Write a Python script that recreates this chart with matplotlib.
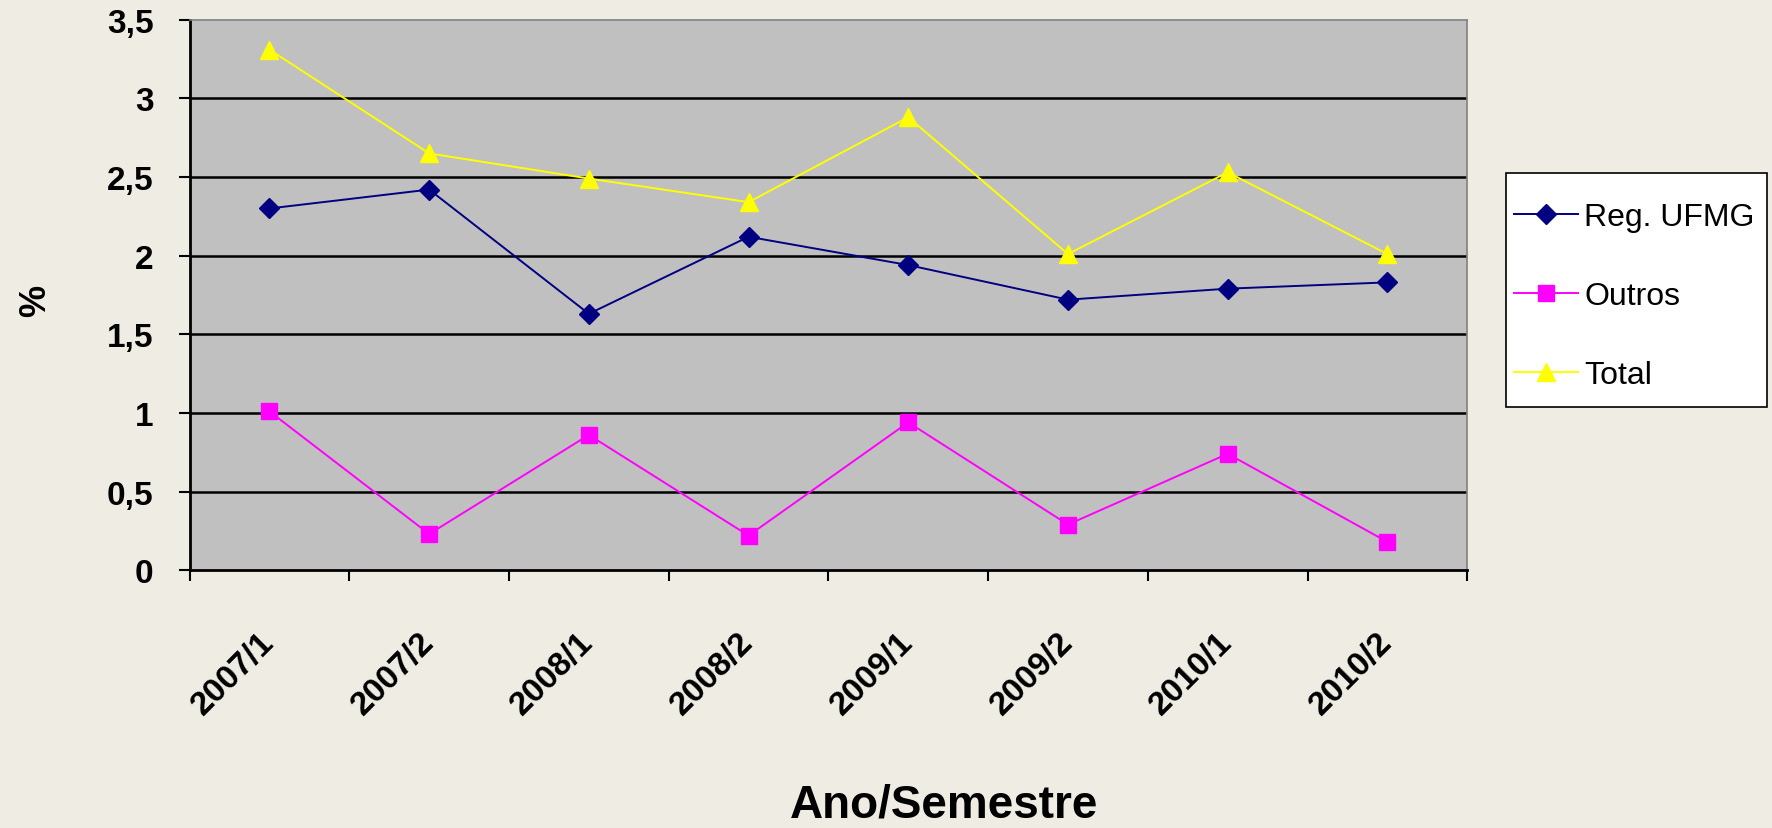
import matplotlib.pyplot as plt
from matplotlib.patches import Rectangle
from matplotlib.ticker import FixedLocator, NullFormatter

periodos = ['2007/1', '2007/2', '2008/1', '2008/2', '2009/1', '2009/2', '2010/1', '2010/2']
reg_ufmg = [2.30, 2.42, 1.63, 2.12, 1.94, 1.72, 1.79, 1.83]
outros = [1.01, 0.23, 0.86, 0.22, 0.94, 0.29, 0.74, 0.18]
total = [3.31, 2.65, 2.49, 2.34, 2.88, 2.01, 2.53, 2.01]
y_ticks = [0, 0.5, 1, 1.5, 2, 2.5, 3, 3.5]
y_labels = ['0', '0,5', '1', '1,5', '2', '2,5', '3', '3,5']

plt.rcParams['font.family'] = ['Liberation Sans', 'DejaVu Sans']

W, H = 1772, 829
fig = plt.figure(figsize=(W / 100, H / 100), dpi=100)
fig.patch.set_facecolor('#efede3')
ax = fig.add_axes([0.107, 0.311, 0.721, 0.664])
ax.set_facecolor('#c0c0c0')

x = list(range(len(periodos)))
ax.plot(x, reg_ufmg, color='#000080', lw=1.4, marker='D', ms=10.5, label='Reg. UFMG', zorder=3)
ax.plot(x, outros, color='#ff00ff', lw=1.4, marker='s', ms=12, label='Outros', zorder=3)
ax.plot(x, total, color='#ffff00', lw=1.4, marker='^', ms=13, label='Total', zorder=3)

ax.set_xlim(-0.5, len(periodos) - 0.5)
ax.set_ylim(0, 3.5)

# grid lines at every y tick
for yv in y_ticks[1:-1]:
    ax.axhline(yv, color='black', lw=1.8, zorder=1)

ax.set_yticks(y_ticks)
ax.set_yticklabels(y_labels, fontsize=24, fontweight='bold')
ax.tick_params(axis='y', length=8, width=1.5, direction='out', pad=18)

# ticks between categories, labels at category centres
ax.xaxis.set_major_locator(FixedLocator([i - 0.5 for i in range(len(periodos) + 1)]))
ax.xaxis.set_major_formatter(NullFormatter())
ax.xaxis.set_minor_locator(FixedLocator(x))
ax.set_xticklabels(periodos, minor=True, fontsize=24, fontweight='bold',
                   rotation=45, ha='right', va='center', rotation_mode='anchor')
ax.tick_params(axis='x', which='major', length=8, width=1.5, direction='out')
ax.tick_params(axis='x', which='minor', length=0, pad=48)

ax.spines['left'].set_linewidth(2)
ax.spines['bottom'].set_linewidth(2)
ax.spines['top'].set_color('#808080')
ax.spines['right'].set_color('#808080')
ax.spines['top'].set_linewidth(1.2)
ax.spines['right'].set_linewidth(1.2)

fig.text(0.020, 0.637, '%', rotation=90, fontsize=26, fontweight='bold',
         ha='center', va='center')
fig.text(0.533, 0.014, 'Ano/Semestre', fontsize=33, fontweight='bold',
         ha='center', va='baseline')

# legend box drawn separately (behind the axes) so the entries can sit lower inside it
fig.patches.append(Rectangle((1506 / W, 1 - 408 / H), 261 / W, 234 / H,
                             transform=fig.transFigure, facecolor='white',
                             edgecolor='black', lw=1.2, zorder=-1))
leg = ax.legend(loc='upper left', bbox_to_anchor=(1514 / W, 1 - 203 / H),
                bbox_transform=fig.transFigure, fontsize=23, frameon=False,
                borderaxespad=0, handlelength=2.0, borderpad=0,
                handletextpad=0.2, labelspacing=1.53)

fig.savefig('out.png', dpi=100, facecolor=fig.get_facecolor())
